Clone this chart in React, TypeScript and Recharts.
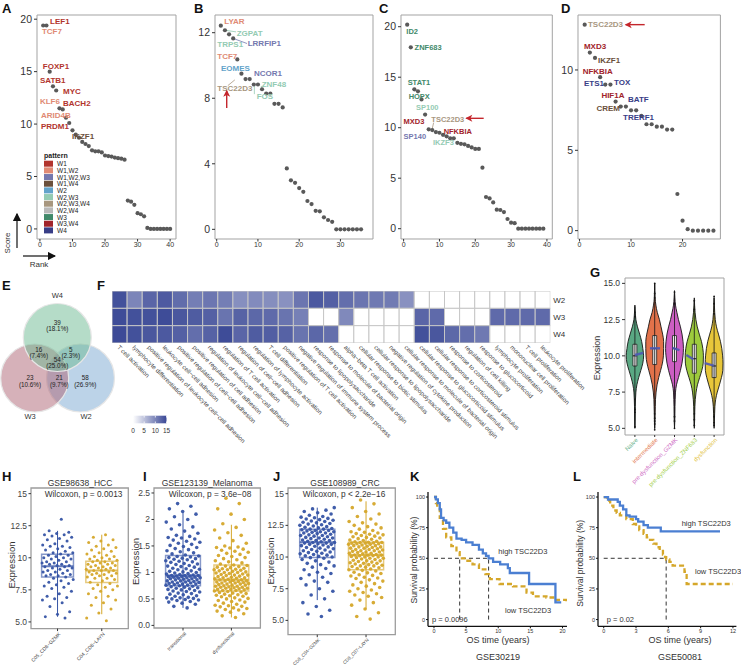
import React from 'react'
import {
    Area,
    ComposedChart,
    Line,
    LineChart,
    ReferenceArea,
    ReferenceDot,
    ReferenceLine,
    Scatter,
    ScatterChart,
    XAxis,
    YAxis,
} from 'recharts'

type Pt = [number, number]
type Rect = [number, number, number, number]

const FONT = '"Liberation Sans", Arial, Helvetica, sans-serif'
const INK = '#333333'
const FRAME = '#a3a3a3'
const BLUE = '#3654a5'
const GOLD = '#d5a72a'
const RED = '#c4262c'

// ---------- A-D: regulon score by rank ----------
const patternNames = ['W1', 'W1,W2', 'W1,W2,W3', 'W1,W4', 'W2', 'W2,W3', 'W2,W3,W4', 'W2,W4', 'W3', 'W3,W4', 'W4']
const patternFill = ['#b2342d', '#e08a74', '#7478ae', '#6a4f3b', '#62a3ca', '#94cbb3', '#a8977f', '#b9b9b9', '#41896a', '#a1232a', '#383d86']
const pcol = (p: string) => patternFill[patternNames.indexOf(p)]

const scoresA = [19.4, 19.4, 15.0, 13.6, 13.2, 11.5, 11.4, 10.6, 10.1, 9.4, 9.0, 8.7, 8.3, 8.1, 7.9, 7.5, 7.4, 7.4, 7.3, 7.0, 6.95, 6.9, 6.8, 6.75, 6.7, 6.6, 2.7, 2.6, 2.3, 1.5, 1.4, 1.2, 0.1, 0, 0, 0, 0, 0, 0, 0]
const scoresB = [12.43, 12.15, 11.9, 11.65, 10.37, 9.5, 9.17, 9.17, 8.84, 8.84, 8.55, 8.29, 8.29, 7.66, 7.66, 7.44, 3.72, 2.99, 2.84, 2.52, 2.29, 1.73, 1.54, 1.13, 1.1, 0.73, 0.57, 0.46, 0, 0, 0, 0, 0, 0, 0]
const scoresC = [20.2, 17.96, 13.8, 13.6, 12.8, 11.3, 9.84, 9.77, 9.57, 9.5, 9.3, 9.15, 8.95, 8.95, 8.5, 8.4, 8.35, 8.2, 8.05, 7.9, 7.9, 6.04, 3.14, 3.0, 2.6, 1.88, 1.85, 1.65, 0.96, 0.6, 0.55, 0, 0, 0, 0, 0, 0, 0, 0]
const scoresD = [12.82, 11.08, 10.75, 9.55, 9.09, 9.09, 8.03, 7.72, 7.72, 7.49, 7.49, 7.15, 6.62, 6.62, 6.47, 6.47, 6.29, 6.29, 2.28, 0.62, 0.09, 0, 0, 0, 0, 0]

const genesA: [string, string][] = [
    ['LEF1', 'W1'], ['TCF7', 'W1,W2'], ['FOXP1', 'W1'], ['SATB1', 'W1'], ['MYC', 'W1'],
    ['KLF6', 'W1,W2'], ['BACH2', 'W1'], ['ARID4B', 'W1,W2'], ['PRDM1', 'W1'], ['IKZF1', 'W1,W4'],
]
const genesB: [string, string][] = [
    ['LYAR', 'W1,W2'], ['ZGPAT', 'W2,W3'], ['TRPS1', 'W2,W3'], ['LRRFIP1', 'W1,W2,W3'], ['TCF7', 'W1,W2'],
    ['EOMES', 'W2'], ['NCOR1', 'W1,W2,W3'], ['ZNF48', 'W2,W3'], ['TSC22D3', 'W2,W3,W4'], ['FOS', 'W2,W3'],
]
const genesC: [string, string][] = [
    ['ID2', 'W3'], ['ZNF683', 'W3'], ['STAT1', 'W3'], ['HOPX', 'W3'], ['SP100', 'W2,W3'],
    ['TSC22D3', 'W2,W3,W4'], ['MXD3', 'W3,W4'], ['NFKBIA', 'W3,W4'], ['SP140', 'W1,W2,W3'], ['IKZF3', 'W2,W3'],
]
const genesD: [string, string][] = [
    ['TSC22D3', 'W2,W3,W4'], ['MXD3', 'W3,W4'], ['IKZF1', 'W1,W4'], ['NFKBIA', 'W3,W4'], ['ETS1', 'W4'],
    ['TOX', 'W4'], ['HIF1A', 'W3,W4'], ['BATF', 'W4'], ['CREM', 'W1,W4'], ['TRERF1', 'W4'],
]

// label placement (rank, score) - layout only
const labelAtA: Record<string, Pt> = {
    LEF1: [3.1, 19.8], TCF7: [0.6, 18.8], FOXP1: [0.9, 15.5], SATB1: [0, 14.15], MYC: [7.1, 13.1],
    KLF6: [0, 12.15], BACH2: [7.1, 11.95], ARID4B: [0.3, 10.8], PRDM1: [0.3, 9.75], IKZF1: [9.85, 8.8],
}
const labelAtB: Record<string, Pt> = {
    LYAR: [1.85, 12.67], ZGPAT: [4.85, 11.98], TRPS1: [0.15, 11.29], LRRFIP1: [7.52, 11.33], TCF7: [0.15, 10.54],
    EOMES: [1.04, 9.8], NCOR1: [9.05, 9.5], ZNF48: [10.9, 8.81], TSC22D3: [0.15, 8.61], FOS: [9.7, 8.08],
}
const labelAtC: Record<string, Pt> = {
    ID2: [0.75, 19.48], ZNF683: [3.07, 17.92], STAT1: [1.12, 14.46], HOPX: [1.4, 13.07], SP100: [3.46, 12.02],
    TSC22D3: [7.74, 10.83], MXD3: [0, 10.66], NFKBIA: [11.17, 9.67], SP140: [0, 9.11], IKZF3: [8.21, 8.51],
}
const labelAtD: Record<string, Pt> = {
    TSC22D3: [1.64, 12.82], MXD3: [0.86, 11.45], IKZF1: [3.58, 10.58], NFKBIA: [0.61, 9.92], ETS1: [0.86, 9.13],
    TOX: [6.69, 9.25], HIF1A: [4.24, 8.38], BATF: [9.41, 8.13], CREM: [3.27, 7.62], TRERF1: [8.44, 7.06],
}
const linksB = [
    { gene: 'ZGPAT', from: [2, 12.15], to: [4.7, 12.05] },
    { gene: 'LRRFIP1', from: [4, 11.65], to: [7.35, 11.34] },
    { gene: 'ZNF48', from: [11, 8.55], to: [10.8, 8.75] },
    { gene: 'TSC22D3', from: [2.7, 8.77], to: [4.4, 9.12] },
    { gene: 'FOS', from: [9.13, 8.84], to: [9.13, 8.25] },
]
const linksC = [{ gene: 'TSC22D3', from: [7.9, 9.77], to: [8.38, 10.5] }]

// ---------- E: venn ----------
const vennSets = ['W2', 'W3', 'W4']
const vennCounts = [39, 16, 5, 54, 23, 21, 58] // W4, W3&W4, W2&W4, all, W3, W2&W3, W2
const vennTotal = 216
const vennFill = ['#7aa8d2', '#ad6373', '#6cba92']
const vennCenter: Pt[] = [[80.5, 88], [34.7, 88], [57.3, 47.5]]
const vennCountAt: Pt[] = [[57.3, 35.5], [38.7, 62.8], [70.7, 62.8], [57.3, 72.5], [30, 91], [59.3, 91], [85.3, 91]]
const vennNameAt: Pt[] = [[86, 126.5], [30, 126.5], [57.3, 5]]

// ---------- F: GO heatmap ----------
const goTerms = [
    'T cell activation', 'lymphocyte differentiation', 'positive regulation of leukocyte cell−cell adhesion',
    'leukocyte cell−cell adhesion', 'positive regulation of cell−cell adhesion', 'positive regulation of cell adhesion',
    'regulation of leukocyte cell−cell adhesion', 'regulation of T cell activation', 'regulation of cell−cell adhesion',
    'regulation of lymphocyte activation', 'T cell differentiation', 'positive regulation of T cell activation',
    'negative regulation of immune system process', 'response to lipopolysaccharide',
    'response to molecule of bacterial origin', 'alpha−beta T cell activation', 'cellular response to biotic stimulus',
    'cellular response to lipopolysaccharide', 'negative regulation of cytokine production',
    'cellular response to molecule of bacterial origin', 'cellular response to glucocorticoid stimulus',
    'cellular response to corticosteroid stimulus', 'response to corticosteroid', 'regulation of cell killing',
    'response to glucocorticoid', 'lymphocyte proliferation', 'mononuclear cell proliferation',
    'T cell proliferation', 'leukocyte proliferation',
]
const hmRows = ['W2', 'W3', 'W4']
const hmW2 = [14.3, 10.0, 12.6, 13.5, 12.0, 10.6, 11.2, 10.6, 9.2, 9.5, 9.3, 9.0, 11.3, 13.6, 13.0, 11.9, 11.3, 11.0, 10.8, 9.0, null, null, null, null, null, null, null, null, null]
const hmW3 = [14.7, 14.3, 14.3, 14.7, 13.8, 13.4, 13.0, 11.4, 12.8, 12.4, 12.2, 11.4, 10.4, null, null, 9.7, null, null, null, null, 12.6, 12.2, null, null, null, 12.2, 12.2, 12.2, 12.2]
const hmW4 = [14.8, 14.3, 13.8, 13.6, 13.0, 11.9, 12.9, 14.7, 12.6, 13.4, 13.2, 12.9, 11.4, 12.5, 11.8, null, null, null, null, null, 14.3, 13.8, 12.4, 11.9, 11.0, null, null, null, null]
const hmValues = [hmW2, hmW3, hmW4]

// ---------- G: violins ----------
const gGroups = ['Naive', 'intermediate', 'pre-dysfunction_GZMK', 'pre-dysfunction_ZNF683', 'dysfunction']
const gFill = ['#5aa883', '#e2724a', '#cc5ec2', '#9dcb3d', '#e7c63a']
const gText = ['#6db48f', '#e47e58', '#cf6fc6', '#a5cf4d', '#e3c447']
const gGrid = [5.0, 5.5, 6.0, 6.5, 7.0, 7.5, 8.0, 8.5, 9.0, 9.5, 10.0, 10.5, 11.0, 11.5, 12.0, 12.5, 13.0, 13.5, 14.0, 14.5, 15.0]
const gHalfWidth: (number | null)[][] = [
    [0, 0.01, 0.015, 0.02, 0.03, 0.05, 0.1, 0.19, 0.3, 0.4, 0.44, 0.4, 0.34, 0.24, 0.13, 0.05, 0.02, 0, null, null, null],
    [0, 0.015, 0.02, 0.03, 0.04, 0.07, 0.12, 0.2, 0.3, 0.39, 0.44, 0.45, 0.45, 0.4, 0.32, 0.24, 0.13, 0.06, 0.02, 0.01, 0],
    [0, 0.015, 0.02, 0.025, 0.035, 0.05, 0.1, 0.2, 0.3, 0.38, 0.43, 0.45, 0.43, 0.38, 0.3, 0.2, 0.12, 0.05, 0.02, 0, null],
    [0, 0.015, 0.02, 0.03, 0.05, 0.09, 0.16, 0.27, 0.38, 0.45, 0.46, 0.43, 0.36, 0.25, 0.15, 0.08, 0.04, 0.015, 0, null, null],
    [0, 0.015, 0.025, 0.04, 0.08, 0.16, 0.27, 0.37, 0.44, 0.45, 0.43, 0.39, 0.32, 0.22, 0.12, 0.06, 0.03, 0.015, 0, null, null],
]
// q1, median, q3, min, max
const gBox = [
    [9.3, 10.0, 10.8, 5.1, 13.4],
    [9.4, 10.5, 11.4, 4.9, 15.0],
    [9.6, 10.5, 11.4, 5.0, 14.4],
    [8.8, 9.8, 10.8, 5.2, 13.8],
    [8.5, 9.3, 10.2, 5.2, 14.1],
]
const gOutliers = [
    [5.1, 6.1, 6.3, 7.0, 12.7, 13.0],
    [4.9, 5.3, 5.5, 5.7, 6.0, 14.0, 14.3, 15.0],
    [5.0, 5.5, 5.8, 13.6, 14.4],
    [5.2, 5.6, 6.0, 13.2, 13.8],
    [5.2, 5.4, 5.8, 12.9, 13.6, 14.1],
]
const gTrend = [
    [1.0, 10.06, 1.42, 10.21],
    [1.76, 10.52, 2.27, 10.52],
    [2.9, 10.55, 3.25, 10.4],
    [3.6, 10.06, 3.95, 9.76],
    [4.53, 9.5, 4.98, 9.32],
]

// ---------- H-J: expression box plots ----------
const hNames = ['C05_CD8−GZMK', 'C04_CD8−LAYN']
const hGzmk = [13.0, 12.1, 12.0, 11.9, 11.8, 11.8, 11.7, 11.6, 11.5, 11.4, 11.3, 11.1, 11.0, 10.9, 10.9, 10.8, 10.7, 10.6, 10.5, 10.4, 10.4, 10.3, 10.2, 10.2, 10.1, 10.0, 10.0, 9.9, 9.9, 9.8, 9.7, 9.7, 9.6, 9.6, 9.5, 9.5, 9.4, 9.4, 9.3, 9.3, 9.2, 9.2, 9.1, 9.0, 9.0, 8.9, 8.9, 8.8, 8.7, 8.7, 8.6, 8.6, 8.5, 8.4, 8.3, 8.2, 8.1, 8.0, 7.9, 7.8, 7.7, 7.6, 7.4, 7.2, 7.0, 6.9, 6.8, 6.7, 6.5, 6.2, 5.8, 5.6, 5.4, 5.3]
const hLayn = [11.8, 11.6, 11.4, 11.3, 11.2, 11.0, 10.9, 10.8, 10.7, 10.6, 10.5, 10.4, 10.3, 10.2, 10.1, 10.1, 10.0, 9.9, 9.9, 9.8, 9.8, 9.7, 9.7, 9.6, 9.6, 9.5, 9.5, 9.4, 9.4, 9.3, 9.3, 9.2, 9.2, 9.1, 9.1, 9.0, 9.0, 9.0, 8.9, 8.9, 8.8, 8.8, 8.7, 8.7, 8.6, 8.6, 8.5, 8.4, 8.4, 8.3, 8.2, 8.1, 8.0, 7.9, 7.8, 7.7, 7.6, 7.5, 7.4, 7.2, 7.0, 6.9, 6.7, 6.5, 6.3, 6.0, 5.7, 5.3, 5.1]
const hStats = [[8.5, 9.34, 10.27, 5.4, 12.1], [8.07, 9.0, 9.73, 5.6, 11.8]]

const iNames = ['transitional', 'dysfunctional']
const iTrans = [0.33, 0.36, 0.4, 0.42, 0.44, 0.45, 0.47, 0.48, 0.49, 0.5, 0.51, 0.52, 0.52, 0.53, 0.55, 0.56, 0.58, 0.59, 0.6, 0.61, 0.63, 0.64, 0.65, 0.66, 0.67, 0.68, 0.69, 0.7, 0.71, 0.72, 0.73, 0.74, 0.75, 0.76, 0.76, 0.77, 0.78, 0.78, 0.79, 0.8, 0.8, 0.81, 0.82, 0.82, 0.83, 0.84, 0.84, 0.85, 0.86, 0.86, 0.87, 0.88, 0.88, 0.89, 0.9, 0.9, 0.91, 0.91, 0.92, 0.92, 0.93, 0.93, 0.94, 0.94, 0.94, 0.95, 0.96, 0.97, 0.98, 0.99, 1.0, 1.01, 1.02, 1.03, 1.05, 1.06, 1.07, 1.08, 1.1, 1.11, 1.12, 1.13, 1.15, 1.16, 1.17, 1.19, 1.2, 1.21, 1.22, 1.24, 1.25, 1.26, 1.27, 1.28, 1.29, 1.3, 1.31, 1.33, 1.35, 1.37, 1.39, 1.41, 1.43, 1.45, 1.47, 1.49, 1.51, 1.53, 1.55, 1.57, 1.59, 1.61, 1.63, 1.65, 1.66, 1.68, 1.7, 1.74, 1.78, 1.82, 1.86, 1.9, 1.95, 2.0, 2.05, 2.1, 2.15, 2.2, 2.25, 2.3]
const iDysf = [0.15, 0.18, 0.22, 0.25, 0.27, 0.29, 0.3, 0.32, 0.33, 0.35, 0.36, 0.37, 0.38, 0.4, 0.42, 0.44, 0.45, 0.47, 0.48, 0.5, 0.51, 0.52, 0.54, 0.55, 0.56, 0.57, 0.58, 0.59, 0.6, 0.61, 0.62, 0.63, 0.64, 0.65, 0.66, 0.66, 0.67, 0.68, 0.68, 0.69, 0.7, 0.7, 0.71, 0.72, 0.72, 0.73, 0.74, 0.74, 0.75, 0.76, 0.76, 0.77, 0.78, 0.78, 0.79, 0.8, 0.8, 0.81, 0.82, 0.82, 0.83, 0.84, 0.84, 0.85, 0.86, 0.86, 0.87, 0.88, 0.89, 0.9, 0.9, 0.91, 0.92, 0.93, 0.94, 0.95, 0.95, 0.96, 0.97, 0.98, 0.99, 1.0, 1.0, 1.01, 1.02, 1.03, 1.04, 1.05, 1.05, 1.06, 1.07, 1.08, 1.09, 1.1, 1.11, 1.12, 1.13, 1.14, 1.16, 1.18, 1.2, 1.22, 1.24, 1.26, 1.28, 1.3, 1.32, 1.34, 1.36, 1.38, 1.4, 1.42, 1.44, 1.46, 1.47, 1.48, 1.5, 1.55, 1.6, 1.65, 1.7, 1.75, 1.8, 1.85, 1.92, 2.0, 2.1, 2.2, 2.3, 2.4]
const iStats = [[0.75, 0.94, 1.32, 0.33, 2.13], [0.65, 0.86, 1.14, 0.15, 1.9]]

const jNames = ['CD8_C04−GZMK', 'CD8_C07−LAYN']
const jGzmk = [5.3, 5.5, 5.8, 6.1, 6.4, 6.7, 7.0, 7.3, 7.5, 7.8, 8.0, 8.1, 8.3, 8.4, 8.6, 8.7, 8.8, 9.0, 9.1, 9.2, 9.3, 9.4, 9.5, 9.6, 9.7, 9.8, 9.9, 9.95, 10.0, 10.05, 10.1, 10.15, 10.2, 10.25, 10.3, 10.35, 10.4, 10.45, 10.5, 10.55, 10.6, 10.65, 10.7, 10.75, 10.8, 10.85, 10.9, 10.95, 11.0, 11.0, 11.05, 11.1, 11.1, 11.15, 11.15, 11.2, 11.25, 11.3, 11.3, 11.35, 11.4, 11.45, 11.5, 11.5, 11.55, 11.6, 11.65, 11.7, 11.7, 11.75, 11.8, 11.85, 11.9, 11.9, 11.95, 12.0, 12.0, 12.05, 12.1, 12.1, 12.15, 12.2, 12.2, 12.25, 12.3, 12.35, 12.4, 12.45, 12.5, 12.55, 12.6, 12.65, 12.7, 12.75, 12.8, 12.85, 12.9, 12.95, 13.0, 13.05, 13.1, 13.15, 13.2, 13.3, 13.4, 13.5, 13.6, 13.7, 13.8, 13.9]
const jLayn = [5.1, 5.3, 5.6, 5.9, 6.2, 6.4, 6.6, 6.8, 6.9, 7.0, 7.1, 7.2, 7.3, 7.4, 7.5, 7.6, 7.7, 7.8, 7.9, 8.0, 8.1, 8.2, 8.3, 8.35, 8.4, 8.5, 8.55, 8.6, 8.7, 8.75, 8.8, 8.9, 8.95, 9.0, 9.05, 9.1, 9.15, 9.2, 9.25, 9.3, 9.3, 9.35, 9.4, 9.45, 9.5, 9.5, 9.55, 9.6, 9.65, 9.7, 9.7, 9.75, 9.8, 9.85, 9.9, 9.9, 9.95, 10.0, 10.0, 10.05, 10.1, 10.1, 10.15, 10.15, 10.16, 10.2, 10.25, 10.3, 10.3, 10.35, 10.4, 10.4, 10.45, 10.5, 10.5, 10.55, 10.6, 10.6, 10.65, 10.7, 10.7, 10.75, 10.8, 10.8, 10.85, 10.9, 10.9, 10.95, 11.0, 11.0, 11.05, 11.05, 11.1, 11.1, 11.12, 11.14, 11.15, 11.16, 11.2, 11.25, 11.3, 11.35, 11.4, 11.45, 11.5, 11.55, 11.6, 11.65, 11.7, 11.75, 11.8, 11.85, 11.9, 11.95, 12.0, 12.1, 12.2, 12.3, 12.4, 12.5, 12.6, 12.7, 12.8, 13.0, 13.2, 13.4, 13.6, 13.9, 14.2, 14.5]
const jStats = [[9.97, 11.16, 12.2, 6.6, 13.9], [9.0, 10.16, 11.16, 5.9, 14.4]]

// ---------- K-L: survival ----------
const kHigh: Pt[] = [[0, 100], [0.3, 98], [0.6, 95], [0.9, 90], [1.1, 83], [1.5, 81], [1.9, 79], [2.4, 75], [3.0, 71], [3.5, 66], [4.3, 65], [5.0, 63], [6.0, 61], [7.0, 57], [7.6, 54], [8.1, 52], [8.5, 50], [9.2, 47], [10.3, 45], [11.5, 42], [11.8, 38], [14.8, 29], [18.9, 14], [19.8, 14]]
const kLow: Pt[] = [[0, 100], [0.3, 95], [0.5, 91], [0.9, 83], [1.4, 74], [1.9, 67], [2.7, 60], [3.5, 55], [4.0, 50], [5.0, 48], [6.0, 45], [7.0, 41], [8.0, 37], [8.7, 33], [10.2, 29], [12.3, 27], [14.4, 22], [15.4, 19], [17.5, 18], [19.0, 16], [20.6, 15]]
const kMedians = [4.0, 8.5]
const lHigh: Pt[] = [[0, 100], [0.4, 98], [1.3, 96], [1.5, 93], [1.8, 90], [2.1, 85], [2.4, 84], [3.0, 82], [3.2, 80], [3.7, 77], [4.1, 75], [5.3, 72], [10.8, 72]]
const lLow: Pt[] = [[0, 100], [0.3, 97], [0.6, 93], [0.9, 89], [1.2, 87], [1.5, 85], [2.1, 82], [2.7, 78], [3.0, 76], [3.3, 73], [3.7, 70], [4.0, 67], [4.3, 65], [4.6, 62], [4.9, 59], [5.2, 56], [5.5, 53], [5.7, 51], [5.8, 49], [6.1, 47], [6.4, 44], [7.4, 44], [7.5, 39], [7.7, 29], [12.0, 29]]
const lMedians = [5.8]

// ---------- helpers ----------
const jit = (k: number) => (((k + 1) * 0.6180339887) % 1) - 0.5

function geo(plot: Rect, yW: number, xH: number, yWR = 0, pad = 10) {
    const [x0, y0, x1, y1] = plot
    return {
        left: x0 - yW - pad,
        top: y0 - pad,
        width: x1 - x0 + yW + yWR + 2 * pad,
        height: y1 - y0 + xH + 2 * pad,
        margin: { top: pad, right: pad, bottom: pad, left: pad },
    }
}

function Wrap({ g, children }: any) {
    return <div style={{ position: 'absolute', left: g.left, top: g.top }}>{children}</div>
}

const frame = (x: Pt, y: Pt, stroke = FRAME, w = 1) => (
    <ReferenceArea x1={x[0]} x2={x[1]} y1={y[0]} y2={y[1]} fill="none" stroke={stroke} strokeWidth={w} ifOverflow="visible" />
)

function heatColor(v: number | null) {
    if (v == null) return '#ffffff'
    const t = Math.min(1, v / 15)
    const c = (a: number, b: number) => Math.round(a + (b - a) * t)
    return `rgb(${c(255, 58)},${c(255, 72)},${c(255, 150)})`
}

function arrowHead(x: number, y: number, dir: string) {
    return dir === 'up'
        ? `M${x},${y - 1} L${x - 3.5},${y + 6} L${x},${y + 4.2} L${x + 3.5},${y + 6} Z`
        : `M${x - 1},${y} L${x + 6},${y - 3.5} L${x + 4.2},${y} L${x + 6},${y + 3.5} Z`
}

// ---------- panels ----------
function ScorePanel(props: any) {
    const { plot, xDomain, yDomain, xTicks, yTicks, scores, genes, labelAt, links = [], arrow, labelSize = 8 } = props
    const g = geo(plot, 30, 13)
    const points = scores.map((s: number, i: number) => ({ x: i + 1, y: s }))
    const patternOf: Record<string, string> = Object.fromEntries(genes)
    const labels = genes.map(([gene, pattern]: [string, string]) => ({
        x: labelAt[gene][0],
        y: labelAt[gene][1],
        gene,
        pattern,
    }))
    return (
        <Wrap g={g}>
            <ScatterChart width={g.width} height={g.height} margin={g.margin}>
                <XAxis type="number" dataKey="x" domain={xDomain} ticks={xTicks} interval={0} allowDataOverflow height={13}
                    axisLine={false} tickSize={2.5} tickMargin={1} tickLine={{ stroke: INK }} tick={{ fontSize: 7, fill: INK }} />
                <YAxis type="number" dataKey="y" domain={yDomain} ticks={yTicks} interval={0} allowDataOverflow width={30}
                    axisLine={false} tickSize={3} tickMargin={2} tickLine={{ stroke: INK }} tick={{ fontSize: 10.5, fill: INK }} />
                {frame(xDomain, yDomain)}
                {links.map((l: any, i: number) => (
                    <ReferenceLine key={i} segment={[{ x: l.from[0], y: l.from[1] }, { x: l.to[0], y: l.to[1] }]}
                        stroke={pcol(patternOf[l.gene])} strokeWidth={0.8} ifOverflow="visible" />
                ))}
                <Scatter data={points} isAnimationActive={false}
                    shape={(p: any) => <circle cx={p.cx} cy={p.cy} r={2.1} fill="#595959" />} />
                <Scatter data={labels} isAnimationActive={false}
                    shape={(p: any) => (
                        <text x={p.cx} y={p.cy} fontSize={labelSize} fontWeight="bold" fontFamily={FONT}
                            fill={pcol(p.payload.pattern)} dominantBaseline="central">
                            {p.payload.gene}
                        </text>
                    )} />
                {arrow ? (
                    <ReferenceLine segment={[{ x: arrow.from[0], y: arrow.from[1] }, { x: arrow.to[0], y: arrow.to[1] }]}
                        stroke={RED} strokeWidth={1.4} ifOverflow="visible" />
                ) : null}
                {arrow ? (
                    <ReferenceDot x={arrow.to[0]} y={arrow.to[1]} r={3} ifOverflow="visible"
                        shape={(p: any) => <path d={arrowHead(p.cx, p.cy, arrow.dir)} fill={RED} />} />
                ) : null}
            </ScatterChart>
        </Wrap>
    )
}

function VennPanel() {
    const circles = vennSets.map((name, i) => ({ x: vennCenter[i][0], y: vennCenter[i][1], i }))
    const counts = vennCounts.map((n, i) => ({
        x: vennCountAt[i][0],
        y: vennCountAt[i][1],
        n,
        pct: ((100 * n) / vennTotal).toFixed(1),
    }))
    const names = vennSets.map((name, i) => ({ x: vennNameAt[i][0], y: vennNameAt[i][1], name }))
    return (
        <div style={{ position: 'absolute', left: 0, top: 290 }}>
            <ScatterChart width={117} height={132} margin={{ top: 0, right: 0, bottom: 0, left: 0 }}>
                <XAxis type="number" dataKey="x" domain={[0, 117]} hide allowDataOverflow />
                <YAxis type="number" dataKey="y" domain={[0, 132]} hide reversed allowDataOverflow />
                <Scatter data={circles} isAnimationActive={false}
                    shape={(p: any) => (
                        <circle cx={p.cx} cy={p.cy} r={34} fill={vennFill[p.payload.i]} fillOpacity={0.5}
                            stroke="#e6e6e6" strokeWidth={1.2} />
                    )} />
                <Scatter data={counts} isAnimationActive={false}
                    shape={(p: any) => (
                        <text x={p.cx} y={p.cy} fontSize={6.3} fill="#222" textAnchor="middle" fontFamily={FONT}>
                            <tspan x={p.cx} dy={-1}>{p.payload.n}</tspan>
                            <tspan x={p.cx} dy={6.5}>({p.payload.pct}%)</tspan>
                        </text>
                    )} />
                <Scatter data={names} isAnimationActive={false}
                    shape={(p: any) => (
                        <text x={p.cx} y={p.cy} fontSize={7.5} fill="#333" textAnchor="middle" dominantBaseline="central" fontFamily={FONT}>
                            {p.payload.name}
                        </text>
                    )} />
            </ScatterChart>
        </div>
    )
}

function HeatmapPanel() {
    const plot: Rect = [111.7, 290.7, 550, 342.7]
    const g = geo(plot, 0, 4, 22)
    const cellW = (plot[2] - plot[0]) / goTerms.length
    const cellH = (plot[3] - plot[1]) / hmRows.length
    const cells = hmRows.flatMap((row, r) => hmValues[r].map((v, c) => ({ x: c + 1, y: hmRows.length - r, v })))
    return (
        <Wrap g={g}>
            <ScatterChart width={g.width} height={g.height} margin={g.margin}>
                <XAxis type="number" dataKey="x" domain={[0.5, goTerms.length + 0.5]} ticks={goTerms.map((_, i) => i + 1)}
                    interval={0} allowDataOverflow height={4} axisLine={false} tickLine={false} tickSize={0} tickMargin={3}
                    tick={(p: any) => (
                        <text x={p.x - 1} y={p.y} transform={`rotate(45 ${p.x - 1} ${p.y})`} fontSize={6.2} fill="#444"
                            fontFamily={FONT} dominantBaseline="central">
                            {goTerms[p.payload.value - 1]}
                        </text>
                    )} />
                <YAxis orientation="right" type="number" dataKey="y" domain={[0.5, 3.5]} ticks={[1, 2, 3]} interval={0}
                    allowDataOverflow width={22} axisLine={false} tickLine={false} tickSize={0} tickMargin={3}
                    tickFormatter={(v: number) => hmRows[hmRows.length - v]} tick={{ fontSize: 8, fill: INK }} />
                <Scatter data={cells} isAnimationActive={false}
                    shape={(p: any) => (
                        <rect x={p.cx - cellW / 2} y={p.cy - cellH / 2} width={cellW} height={cellH}
                            fill={heatColor(p.payload.v)} stroke="#c6c6c6" strokeWidth={1} />
                    )} />
            </ScatterChart>
        </Wrap>
    )
}

function ViolinPanel() {
    const plot: Rect = [625, 278, 724, 435]
    const yW = 28
    const xH = 4
    const g = geo(plot, yW, xH)
    const xDom: Pt = [0.5, 5.5]
    const yDom: Pt = [4.54, 15.37]
    const rows = gGrid.map((y, r) => {
        const row: any = { y }
        gHalfWidth.forEach((w, i) => {
            const hw = w[r]
            if (hw != null) {
                row['v' + i] = [i + 1 - hw, i + 1 + hw]
                row['l' + i] = i + 1 - hw
                row['r' + i] = i + 1 + hw
            }
        })
        return row
    })
    const outliers = gOutliers.flatMap((vals, i) => vals.map((v) => ({ x: i + 1, y: v })))
    const overMargin = { top: g.margin.top, right: g.margin.right, left: g.margin.left + yW, bottom: g.margin.bottom + xH }
    return (
        <>
            <Wrap g={g}>
                <ComposedChart layout="vertical" width={g.width} height={g.height} margin={g.margin} data={rows}>
                    <XAxis type="number" domain={xDom} ticks={[1, 2, 3, 4, 5]} interval={0} allowDataOverflow height={xH}
                        axisLine={false} tickSize={2} tickMargin={0} tickLine={{ stroke: INK }}
                        tick={(p: any) => (
                            <text x={p.x + 2} y={p.y + 2} transform={`rotate(-45 ${p.x + 2} ${p.y + 2})`} textAnchor="end"
                                fontSize={6} fill={gText[p.payload.value - 1]} fontFamily={FONT} dominantBaseline="central">
                                {gGroups[p.payload.value - 1]}
                            </text>
                        )} />
                    <YAxis type="number" dataKey="y" domain={yDom} ticks={[5, 7.5, 10, 12.5, 15]} interval={0} allowDataOverflow
                        reversed width={yW} axisLine={false} tickSize={3} tickMargin={2} tickLine={{ stroke: INK }}
                        tickFormatter={(v: number) => v.toFixed(1)} tick={{ fontSize: 8.5, fill: INK }} />
                    {frame(xDom, yDom)}
                    {gGroups.map((_, i) => (
                        <Area key={'a' + i} dataKey={'v' + i} type="monotone" stroke="none" fill={gFill[i]} fillOpacity={1}
                            isAnimationActive={false} dot={false} activeDot={false} />
                    ))}
                    {gGroups.map((_, i) => (
                        <Line key={'l' + i} dataKey={'l' + i} type="monotone" stroke="#151515" strokeWidth={0.9}
                            isAnimationActive={false} dot={false} activeDot={false} />
                    ))}
                    {gGroups.map((_, i) => (
                        <Line key={'r' + i} dataKey={'r' + i} type="monotone" stroke="#151515" strokeWidth={0.9}
                            isAnimationActive={false} dot={false} activeDot={false} />
                    ))}
                </ComposedChart>
            </Wrap>
            <Wrap g={g}>
                <ScatterChart width={g.width} height={g.height} margin={overMargin}>
                    <XAxis type="number" dataKey="x" domain={xDom} hide allowDataOverflow />
                    <YAxis type="number" dataKey="y" domain={yDom} hide allowDataOverflow />
                    {gBox.map((b, i) => (
                        <ReferenceLine key={'w' + i} segment={[{ x: i + 1, y: b[3] }, { x: i + 1, y: b[4] }]} stroke="#151515"
                            strokeWidth={0.8} ifOverflow="visible" />
                    ))}
                    <Scatter data={outliers} isAnimationActive={false}
                        shape={(p: any) => <circle cx={p.cx} cy={p.cy} r={0.9} fill="#151515" />} />
                    {gBox.map((b, i) => (
                        <ReferenceArea key={'b' + i} x1={i + 0.9} x2={i + 1.1} y1={b[0]} y2={b[2]} fill="#eeeeee" fillOpacity={1}
                            stroke="#202020" strokeWidth={0.8} ifOverflow="visible" />
                    ))}
                    {gBox.map((b, i) => (
                        <ReferenceLine key={'m' + i} segment={[{ x: i + 0.9, y: b[1] }, { x: i + 1.1, y: b[1] }]} stroke="#151515"
                            strokeWidth={1} ifOverflow="visible" />
                    ))}
                    {gTrend.map((t, i) => (
                        <ReferenceLine key={'t' + i} segment={[{ x: t[0], y: t[1] }, { x: t[2], y: t[3] }]} stroke="#4c59b5"
                            strokeWidth={2.4} strokeOpacity={0.9} ifOverflow="visible" />
                    ))}
                </ScatterChart>
            </Wrap>
        </>
    )
}

function BoxPanel(props: any) {
    const { plot, yDomain, yTicks, yLabels, names, sets, stats, yW = 24, dot = 1.5, labelSize = 5 } = props
    const colors = [BLUE, GOLD]
    const g = geo(plot, yW, 5, 0, 32)
    const xDom: Pt = [0.4, 2.6]
    return (
        <Wrap g={g}>
            <ScatterChart width={g.width} height={g.height} margin={g.margin}>
                <XAxis type="number" dataKey="x" domain={xDom} ticks={[1, 2]} interval={0} allowDataOverflow height={5}
                    axisLine={false} tickSize={2.5} tickMargin={0} tickLine={{ stroke: INK }}
                    tick={(p: any) => (
                        <text x={p.x + 2} y={p.y + 2} transform={`rotate(-45 ${p.x + 2} ${p.y + 2})`} textAnchor="end"
                            fontSize={labelSize} fill="#444" fontFamily={FONT} dominantBaseline="central">
                            {names[p.payload.value - 1]}
                        </text>
                    )} />
                <YAxis type="number" dataKey="y" domain={yDomain} ticks={yTicks} interval={0} allowDataOverflow width={yW}
                    axisLine={false} tickSize={2.5} tickMargin={1.5} tickLine={{ stroke: INK }}
                    tickFormatter={(v: number) => yLabels[yTicks.indexOf(v)]} tick={{ fontSize: 8.5, fill: '#444' }} />
                {frame(xDom, yDomain, '#9c9c9c', 1.3)}
                {stats.map((s: number[], i: number) => (
                    <ReferenceArea key={'b' + i} x1={i + 1 - 0.36} x2={i + 1 + 0.36} y1={s[0]} y2={s[2]} fill="#ffffff"
                        fillOpacity={0} stroke={colors[i]} strokeOpacity={0.6} strokeWidth={1.5} ifOverflow="visible" />
                ))}
                {stats.map((s: number[], i: number) => (
                    <ReferenceLine key={'w' + i} segment={[{ x: i + 1, y: s[3] }, { x: i + 1, y: s[4] }]} stroke={colors[i]}
                        strokeWidth={1} ifOverflow="visible" />
                ))}
                {sets.map((vals: number[], i: number) => (
                    <Scatter key={'s' + i} isAnimationActive={false}
                        data={vals.map((v, k) => ({ x: i + 1 + jit(k) * 0.72, y: v }))}
                        shape={(p: any) => <circle cx={p.cx} cy={p.cy} r={dot} fill={colors[i]} fillOpacity={0.95} />} />
                ))}
                {stats.map((s: number[], i: number) => (
                    <ReferenceLine key={'m' + i} segment={[{ x: i + 1 - 0.36, y: s[1] }, { x: i + 1 + 0.36, y: s[1] }]}
                        stroke={colors[i]} strokeOpacity={0.75} strokeWidth={2} ifOverflow="visible" />
                ))}
            </ScatterChart>
        </Wrap>
    )
}

function SurvPanel(props: any) {
    const { plot, xDomain, xTicks, high, low, medians } = props
    const g = geo(plot, 16, 10)
    const yDom: Pt = [-5.5, 104.1]
    const times = Array.from(new Set([...high.map((d: Pt) => d[0]), ...low.map((d: Pt) => d[0])])).sort(
        (a: any, b: any) => a - b
    )
    const rows = times.map((t) => ({
        t,
        high: high.find((d: Pt) => d[0] === t)?.[1],
        low: low.find((d: Pt) => d[0] === t)?.[1],
    }))
    const axisStyle = { stroke: '#111', strokeWidth: 1.3 }
    return (
        <Wrap g={g}>
            <LineChart width={g.width} height={g.height} margin={g.margin} data={rows}>
                <XAxis type="number" dataKey="t" domain={xDomain} ticks={xTicks} interval={0} allowDataOverflow height={10}
                    axisLine={axisStyle} tickLine={{ stroke: '#111' }} tickSize={2} tickMargin={1}
                    tick={{ fontSize: 5.5, fill: '#333' }} />
                <YAxis type="number" domain={yDom} ticks={[0, 25, 50, 75, 100]} interval={0} allowDataOverflow width={16}
                    axisLine={axisStyle} tickLine={{ stroke: '#111' }} tickSize={2} tickMargin={1}
                    tick={{ fontSize: 5.5, fill: '#333' }} />
                <ReferenceLine segment={[{ x: 0, y: 50 }, { x: Math.max(...medians), y: 50 }]} stroke="#333"
                    strokeDasharray="4 3" strokeWidth={1} ifOverflow="visible" />
                {medians.map((m: number, i: number) => (
                    <ReferenceLine key={i} segment={[{ x: m, y: 0 }, { x: m, y: 50 }]} stroke="#333" strokeDasharray="4 3"
                        strokeWidth={1} ifOverflow="visible" />
                ))}
                <Line dataKey="low" type="stepAfter" stroke={GOLD} strokeWidth={2.3} strokeDasharray="5 3" dot={false}
                    activeDot={false} connectNulls isAnimationActive={false} />
                <Line dataKey="high" type="stepAfter" stroke="#4b7fd2" strokeWidth={2.3} dot={false} activeDot={false}
                    connectNulls isAnimationActive={false} />
            </LineChart>
        </Wrap>
    )
}

function T(props: any) {
    const { x, y, s, size = 8, anchor = 'middle', rot = 0, bold = false, fill = INK } = props
    return (
        <text x={x} y={y} fontSize={size} textAnchor={anchor} dominantBaseline="central" fontWeight={bold ? 'bold' : 'normal'}
            fill={fill} transform={rot ? `rotate(${rot} ${x} ${y})` : undefined}>
            {s}
        </text>
    )
}

function Overlay() {
    const letters: [string, number, number][] = [
        ['A', 2, 12.5], ['B', 194, 12.5], ['C', 379, 12.5], ['D', 561, 12.5], ['E', 2, 290], ['F', 97, 290],
        ['G', 590, 277], ['H', 2, 481], ['I', 143, 481], ['J', 273, 481], ['K', 410, 481], ['L', 573, 481],
    ]
    return (
        <svg width={741} height={665} style={{ position: 'absolute', left: 0, top: 0, pointerEvents: 'none' }} fontFamily={FONT}>
            <defs>
                <linearGradient id="hmgrad" x1="0" x2="1" y1="0" y2="0">
                    <stop offset="0" stopColor="#ffffff" />
                    <stop offset="1" stopColor="rgb(58,72,150)" />
                </linearGradient>
                <marker id="ah" markerWidth="7" markerHeight="7" refX="6" refY="3.5" orient="auto">
                    <path d="M0,0 L7,3.5 L0,7 Z" fill="#111" />
                </marker>
            </defs>
            {letters.map(([s, x, y]) => (
                <text key={s} x={x} y={y} fontSize={13} fontWeight="bold" fill="#111">{s}</text>
            ))}

            {/* A: axis cues and pattern legend */}
            <line x1={17} y1={248} x2={17} y2={214} stroke="#111" strokeWidth={1.2} markerEnd="url(#ah)" />
            <line x1={23} y1={256} x2={55} y2={256} stroke="#111" strokeWidth={1.2} markerEnd="url(#ah)" />
            <T x={7} y={243} s="Score" size={8} rot={-90} />
            <T x={39} y={264} s="Rank" size={8} />
            <T x={44} y={155} s="pattern" size={7} anchor="start" bold fill="#222" />
            {patternNames.map((p, i) => (
                <g key={p}>
                    <rect x={44} y={160.7 + i * 6.67} width={9} height={6} fill={patternFill[i]} />
                    <T x={57} y={163.7 + i * 6.67} s={p} size={6.5} anchor="start" fill="#222" />
                </g>
            ))}

            {/* F: colour bar */}
            <rect x={133} y={415.7} width={33.5} height={7.6} fill="url(#hmgrad)" />
            {[0, 5, 10, 15].map((v) => (
                <g key={v}>
                    <line x1={133 + (v / 15) * 33.5} x2={133 + (v / 15) * 33.5} y1={415.7} y2={417.5} stroke="#fff" strokeWidth={0.8} />
                    <line x1={133 + (v / 15) * 33.5} x2={133 + (v / 15) * 33.5} y1={421.5} y2={423.3} stroke="#fff" strokeWidth={0.8} />
                    <T x={133 + (v / 15) * 33.5} y={430} s={String(v)} size={6.5} />
                </g>
            ))}

            {/* G */}
            <T x={597} y={358} s="Expression" size={9} rot={-90} />

            {/* H-J */}
            <T x={80} y={482.5} s="GSE98638_HCC" size={8.5} />
            <T x={83.5} y={494} s="Wilcoxon, p = 0.0013" size={8.3} />
            <T x={11.5} y={565} s="Expression" size={9.5} rot={-90} />
            <T x={207} y={482.5} s="GSE123139_Melanoma" size={8.5} />
            <T x={210} y={494} s="Wilcoxon, p = 3.6e−08" size={8.3} />
            <T x={135} y={561.5} s="Expression" size={9.5} rot={-90} />
            <T x={345} y={482.5} s="GSE108989_CRC" size={8.5} />
            <T x={344} y={493.5} s="Wilcoxon, p < 2.2e−16" size={8.3} />
            <T x={270} y={561} s="Expression" size={9.5} rot={-90} />

            {/* K-L */}
            <T x={413.5} y={560} s="Survival probability (%)" size={8.5} rot={-90} />
            <T x={498} y={639.5} s="OS time (years)" size={9} />
            <T x={498} y={657} s="GSE30219" size={9} />
            <T x={498.3} y={551.7} s="high TSC22D3" size={7.5} anchor="start" />
            <T x={505} y={610} s="low TSC22D3" size={7.5} anchor="start" />
            <T x={432} y={619} s="p = 0.0096" size={7.5} anchor="start" />
            <T x={580} y={563.3} s="Survival probability (%)" size={8.5} rot={-90} />
            <T x={680} y={639.5} s="OS time (years)" size={9} />
            <T x={680} y={657} s="GSE50081" size={9} />
            <T x={681.7} y={523.3} s="high TSC22D3" size={7.5} anchor="start" />
            <T x={695} y={571.7} s="low TSC22D3" size={7.5} anchor="start" />
            <T x={606.7} y={619.3} s="p = 0.02" size={7.5} anchor="start" />
        </svg>
    )
}

export default function App() {
    return (
        <div style={{ position: 'absolute', left: 0, top: 0, width: 741, height: 665, background: '#ffffff', fontFamily: FONT, overflow: 'hidden' }}>
            <style>{`.recharts-surface{overflow:visible}.recharts-wrapper{overflow:visible}`}</style>
            <ScorePanel plot={[37, 15, 176, 239]} xDomain={[-0.9, 41.8]} yDomain={[-0.96, 20.4]} xTicks={[0, 10, 20, 30, 40]}
                yTicks={[0, 5, 10, 15, 20]} scores={scoresA} genes={genesA} labelAt={labelAtA} />
            <ScorePanel plot={[215, 15, 373, 239]} xDomain={[-0.41, 37.9]} yDomain={[-0.59, 13.08]} xTicks={[0, 10, 20, 30]}
                yTicks={[0, 4, 8, 12]} scores={scoresB} genes={genesB} labelAt={labelAtB} links={linksB}
                arrow={{ from: [2.43, 7.41], to: [2.43, 8.46], dir: 'up' }} />
            <ScorePanel plot={[400.7, 15, 552, 239]} xDomain={[-0.73, 41.5]} yDomain={[-1.02, 21.16]} xTicks={[0, 10, 20, 30, 40]}
                yTicks={[0, 5, 10, 15, 20]} scores={scoresC} genes={genesC} labelAt={labelAtC} links={linksC} labelSize={7.5}
                arrow={{ from: [22.35, 10.93], to: [17.5, 10.93], dir: 'left' }} />
            <ScorePanel plot={[578.3, 15, 720.7, 239]} xDomain={[-0.3, 27.35]} yDomain={[-0.52, 13.42]} xTicks={[0, 10, 20]}
                yTicks={[0, 5, 10]} scores={scoresD} genes={genesD} labelAt={labelAtD}
                arrow={{ from: [12.65, 12.82], to: [8.96, 12.82], dir: 'left' }} />
            <VennPanel />
            <HeatmapPanel />
            <ViolinPanel />
            <BoxPanel plot={[31, 487.7, 128.3, 628.3]} yDomain={[4.48, 15.44]} yTicks={[5, 7.5, 10, 12.5, 15]}
                yLabels={['5.0', '7.5', '10', '12.5', '15']} names={hNames} sets={[hGzmk, hLayn]} stats={hStats} yW={22} />
            <BoxPanel plot={[154.3, 488.3, 260.7, 628.3]} yDomain={[-0.049, 2.594]} yTicks={[0, 0.5, 1, 1.5, 2, 2.5]}
                yLabels={['0.0', '0.5', '1', '1.5', '2', '2.5']} names={iNames} sets={[iTrans, iDysf]} stats={iStats} yW={22} dot={1.8} />
            <BoxPanel plot={[287.7, 488.3, 395, 635]} yDomain={[3.87, 15.45]} yTicks={[5, 7.5, 10, 12.5, 15]}
                yLabels={['5.0', '7.5', '10', '12.5', '15']} names={jNames} sets={[jGzmk, jLayn]} stats={jStats} yW={22} dot={1.8}
                labelSize={4.6} />
            <SurvPanel plot={[428.3, 491.7, 567.3, 626]} xDomain={[-0.93, 20.7]} xTicks={[0, 5, 10, 15, 20]}
                high={kHigh} low={kLow} medians={kMedians} />
            <SurvPanel plot={[598.3, 491.7, 736.7, 626]} xDomain={[-0.53, 12.32]} xTicks={[0, 3, 6, 9, 12]}
                high={lHigh} low={lLow} medians={lMedians} />
            <Overlay />
        </div>
    )
}
